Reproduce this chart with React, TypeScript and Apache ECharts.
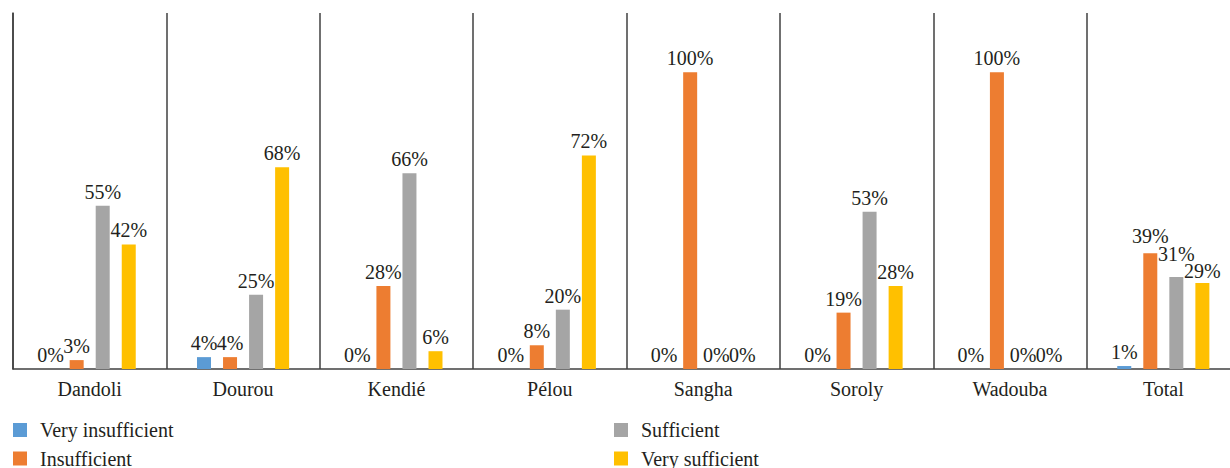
import React, { useEffect, useRef } from "react";
import * as echarts from "echarts";

const categories = ["Dandoli", "Dourou", "Kendié", "Pélou", "Sangha", "Soroly", "Wadouba", "Total"];
const seriesNames = ["Very insufficient", "Insufficient", "Sufficient", "Very sufficient"];
const veryInsufficient = [0, 4, 0, 0, 0, 0, 0, 1];
const insufficient = [3, 4, 28, 8, 100, 19, 100, 39];
const sufficient = [55, 25, 66, 20, 0, 53, 0, 31];
const verySufficient = [42, 68, 6, 72, 0, 28, 0, 29];
const colors = ["#5B9BD5", "#ED7D31", "#A5A5A5", "#FFC000"];

const FONT = "Liberation Serif";
const TEXT = "#231f20";
const FONT_SIZE = 20;

// Vertical nudges for the crowded "Total" labels, per series (px, negative = up)
const totalLabelShift = [0, -3, -9, 2];

export default function App() {
  const ref = useRef<HTMLDivElement>(null);

  useEffect(() => {
    if (!ref.current) return;
    const chart = echarts.init(ref.current, null, { renderer: "svg" });
    const values = [veryInsufficient, insufficient, sufficient, verySufficient];
    const totalIndex = categories.indexOf("Total");

    const legendBase = {
      orient: "vertical",
      icon: "rect",
      itemWidth: 14,
      itemHeight: 14,
      itemGap: 8.5,
      padding: 0,
      top: 420,
      height: 80,
      textStyle: { fontFamily: FONT, fontSize: FONT_SIZE, color: TEXT, lineHeight: 20, padding: [0, 0, 0, 8] },
    };

    chart.setOption({
      animation: false,
      backgroundColor: "#ffffff",
      color: colors,
      textStyle: { fontFamily: FONT },
      // the plot runs past the right edge of the visible frame
      grid: { left: 13, right: 0, top: 13, bottom: 99, containLabel: false },
      legend: [
        { ...legendBase, left: 13, data: seriesNames.slice(0, 2) },
        { ...legendBase, left: 614, data: seriesNames.slice(2, 4) },
      ],
      xAxis: {
        type: "category",
        data: categories,
        axisLine: { show: true, lineStyle: { color: "#404040", width: 1.5 } },
        axisTick: { show: false },
        splitLine: { show: true, interval: 0, lineStyle: { color: "#404040", width: 1.5 } },
        axisLabel: { fontFamily: FONT, fontSize: FONT_SIZE, color: TEXT, margin: 10, interval: 0 },
      },
      yAxis: {
        type: "value",
        min: 0,
        max: 120,
        interval: 20,
        axisLine: { show: true, lineStyle: { color: "#404040", width: 1.5 } },
        axisTick: { show: false },
        axisLabel: { show: false },
        splitLine: { show: false },
      },
      series: seriesNames.map((name, i) => ({
        name,
        type: "bar",
        data: values[i].map((v, j) =>
          j === totalIndex && totalLabelShift[i] !== 0
            ? { value: v, label: { offset: [0, totalLabelShift[i]] } }
            : v
        ),
        barWidth: 14,
        barGap: "86%",
        label: {
          show: true,
          position: "top",
          distance: 4,
          formatter: "{c}%",
          fontFamily: FONT,
          fontSize: FONT_SIZE,
          color: TEXT,
        },
      })),
    });

    return () => chart.dispose();
  }, []);

  return (
    <div
      style={{
        position: "absolute",
        left: 0,
        top: 0,
        width: 1230,
        height: 468,
        overflow: "hidden",
        background: "#ffffff",
      }}
    >
      <div ref={ref} style={{ width: 1240, height: 468 }} />
    </div>
  );
}
